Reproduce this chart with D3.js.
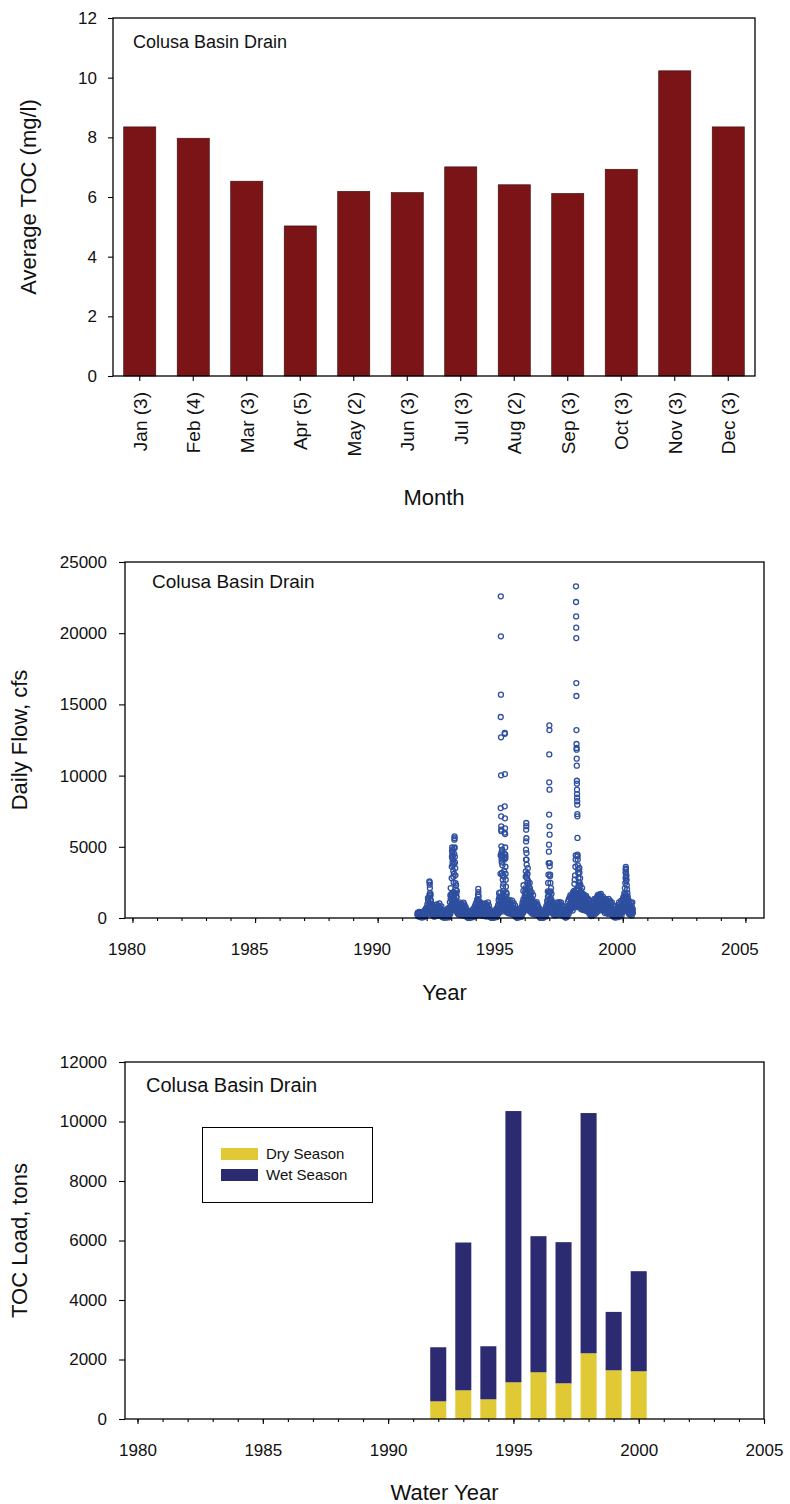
<!DOCTYPE html>
<html>
<head>
<meta charset="utf-8">
<script src="https://cdn.jsdelivr.net/npm/d3@7"></script>
<style>
  body { margin: 0; background: #fff; }
  text { font-family: Arial, "Liberation Sans", sans-serif; fill: #111; }
</style>
</head>
<body>
<div id="chart"></div>
<script>
// ---- panel 1: average TOC by month
const months = ['Jan (3)', 'Feb (4)', 'Mar (3)', 'Apr (5)', 'May (2)', 'Jun (3)',
  'Jul (3)', 'Aug (2)', 'Sep (3)', 'Oct (3)', 'Nov (3)', 'Dec (3)'];
const avgToc = [8.35, 7.97, 6.53, 5.03, 6.19, 6.15, 7.01, 6.41, 6.12, 6.93, 10.23, 8.35];
const tocTicks = [0, 2, 4, 6, 8, 10, 12];

// ---- panel 2: daily flow (base flows every 6 days from 1 Oct of each water year)
const flow1991 = [250, 380, 120, 310, 180, 420, 90];
const flowWY1992 = [280,120,390,210,60, 330,170,450,240,90, 380,560,220,640,310, 720,410,950,580,1180,
  1400,880,1600,1050,760, 1250,640,980,430,820, 560,290,710,420,180, 650,880,340,760,520,
  950,430,820,610,280, 870,540,1020,390,720, 600,250,810,460,140, 380,90,520,220,60,300];
const flowWY1993 = [150,420,60,280,510, 190,640,330,80,460, 720,380,1100,560,1350, 1500,1700,1200,1650,980,
  1400,1800,1100,1600,1250, 1700,1250,980,1450,720, 1050,560,860,420,930, 640,1100,380,820,560,
  1020,470,760,310,880, 590,1080,420,950,680, 350,780,180,620,260, 90,480,30,340,150,20];
const flowWY1994 = [280,60,390,120,450, 210,540,90,360,620, 410,180,740,330,890, 520,1050,260,780,1150,
  1300,700,1200,560,950, 640,1120,380,860,290, 720,450,1000,330,640, 880,240,760,510,1020,
  420,830,180,690,950, 560,1100,340,870,230, 640,150,480,60,390, 20,310,110,420,40,200];
const flowWY1995 = [350,80,470,160,540, 280,650,120,470,760, 900,540,1180,720,1000, 1400,1100,1300,950,1200,
  1500,1000,1300,800,1150, 1350,1050,1500,980,1250, 1100,760,1300,640,920, 1180,560,980,720,1250,
  820,1100,480,960,690, 1220,560,900,380,1050, 700,320,880,190,560, 110,430,30,290,520,160];
const flowWY1996 = [360,90,480,200,610, 280,720,150,530,880, 1100,640,1300,820,1050, 1500,1250,1700,1100,1450,
  1700,1300,2000,1150,1550, 1350,950,1500,800,1200, 1050,700,1250,560,900, 1150,480,940,640,1080,
  720,1050,400,880,560, 1120,620,950,330,780, 540,180,660,60,420, 20,280,90,390,10,150];
const flowWY1997 = [260,70,420,180,560, 330,680,200,850,520, 1200,980,1500,1250,1800, 1600,1300,1800,1100,1400,
  980,1250,700,1100,560, 850,420,760,300,640, 920,480,1050,360,740, 1100,580,880,420,1000,
  650,1120,450,930,700, 1080,520,880,290,760, 600,210,820,350,110, 430,60,300,520,140,380];
const flowWY1998 = [700,1150,480,1300,820, 1450,950,1600,1100,1350, 1200,1550,900,1400,1700, 1600,1900,1400,1750,1300,
  1800,1500,2000,1650,1900, 1750,1400,1950,1300,1600, 1500,1250,1700,1100,1450, 1350,1000,1550,1200,1650,
  1400,1050,1600,900,1300, 1200,1550,850,1400,1050, 950,1350,700,1200,500, 1000,400,850,250,700,350];
const flowWY1999 = [900,300,1100,520,1250, 700,1350,480,1150,850, 1300,650,1450,950,1600, 1200,1500,900,1650,1100,
  1550,1250,1700,1000,1400, 1300,900,1500,1100,1350, 1100,600,1250,800,1050, 1300,700,1150,500,1000,
  850,1350,550,1100,750, 1200,600,950,400,1100, 700,250,900,150,550, 300,800,60,450,200,650];
const flowWY2000 = [250,700,100,550,900, 400,1100,650,200,950, 600,1200,350,850,1100, 1300,800,1450,1000,1250,
  1500,1700,1200,1600,1350, 1100,1400,800,1250,650, 1000,450,1150,700,900, 550,1050,300,800,1100,600];
// low-flow days between the base samples (every 6 days, starting 3 days after 1 Oct)
const lowWY1992 = [90,210,40,160,300, 120,60,260,150,340, 240,130,410,200,520, 300,650,240,460,700,
  820,520,930,610,450, 700,380,560,250,480, 320,150,420,240,90, 380,520,190,450,300,
  560,250,480,350,160, 510,310,600,220,420, 350,140,470,260,70, 210,40,300,120,30,170];
const lowWY1993 = [80,250,30,160,300, 110,380,190,40,270, 420,220,640,320,780, 900,1000,700,950,560,
  820,1050,640,930,720, 980,720,560,840,420, 610,320,500,240,540, 370,640,220,480,320,
  590,270,440,180,510, 340,630,240,550,390, 200,450,100,360,150, 50,280,15,200,80,10];
const lowWY1994 = [160,30,230,70,260, 120,310,50,210,360, 240,100,430,190,520, 300,610,150,450,670,
  760,410,700,320,550, 370,650,220,500,170, 420,260,580,190,370, 510,140,440,300,590,
  240,480,100,400,550, 320,640,200,500,130, 370,80,280,30,220, 10,180,60,240,20,120];
const lowWY1995 = [200,40,270,90,310, 160,380,70,270,440, 520,310,690,420,580, 820,640,760,550,700,
  870,580,760,460,670, 790,610,870,570,730, 640,440,760,370,530, 690,320,570,420,730,
  480,640,280,560,400, 710,320,520,220,610, 400,180,510,110,320, 60,250,20,170,300,90];
const lowWY1996 = [210,50,280,110,350, 160,420,80,310,510, 640,370,760,480,610, 870,730,990,640,840,
  990,760,1160,670,900, 780,550,870,460,700, 610,400,730,320,520, 670,280,550,370,630,
  420,610,230,510,320, 650,360,550,190,450, 310,100,380,30,240, 10,160,50,230,5,90];
const lowWY1997 = [150,40,240,100,320, 190,390,110,490,300, 700,570,870,720,1040, 930,750,1050,640,810,
  570,730,400,640,320, 490,240,440,170,370, 530,280,610,210,430, 640,340,510,240,580,
  380,650,260,540,400, 630,300,510,170,440, 350,120,480,200,60, 250,30,170,300,80,220];
const lowWY1998 = [400,670,280,750,480, 840,550,930,640,780, 700,900,520,810,990, 930,1100,810,1020,750,
  1040,870,1160,960,1100, 1020,810,1130,750,930, 870,730,990,640,840, 780,580,900,700,960,
  810,610,930,520,750, 700,900,490,810,610, 550,780,400,700,290, 580,230,490,140,400,200];
const lowWY1999 = [520,170,640,300,730, 400,780,280,670,490, 750,380,840,550,930, 700,870,520,960,640,
  900,730,990,580,810, 750,520,870,640,780, 640,350,730,460,610, 750,400,670,290,580,
  490,780,320,640,430, 700,350,550,230,640, 400,140,520,80,320, 170,460,30,260,110,380];
const lowWY2000 = [140,400,60,320,520, 230,640,370,110,550, 350,700,200,490,640, 750,460,840,580,730,
  870,990,700,930,780, 640,810,460,730,370, 580,260,670,400,520, 320,610,170,460,640,350];

// storm-day flows [date, cfs]
const storm1992 = [['1992-01-20',1400],['1992-02-12',2575],['1992-02-14',2500],['1992-02-16',2340],['1992-02-18',2100],
  ['1992-02-20',1755],['1992-02-24',1520],['1992-03-01',1650],['1992-03-05',1200]];
const storm1993 = [['1992-12-20',1600],['1992-12-24',2100],['1993-01-08',2800],['1993-01-10',3600],['1993-01-12',4300],
  ['1993-01-14',4700],['1993-01-15',4950],['1993-01-17',4600],['1993-01-19',4200],['1993-01-21',3900],['1993-01-23',4400],
  ['1993-01-25',4800],['1993-01-27',4100],['1993-01-29',3700],['1993-02-01',3300],['1993-02-03',2900],['1993-02-06',2500],
  ['1993-02-09',3100],['1993-02-12',3800],['1993-02-14',4500],['1993-02-16',4900],['1993-02-18',5500],['1993-02-19',5735],
  ['1993-02-20',5600],['1993-02-22',4950],['1993-02-24',4300],['1993-02-26',3900],['1993-03-01',3500],['1993-03-04',3000],
  ['1993-03-07',2450],['1993-03-10',2000],['1993-03-14',2300],['1993-03-18',1750],['1993-03-22',1500],['1993-03-26',1900]];
const storm1994 = [['1994-01-25',1300],['1994-02-05',1640],['1994-02-08',2040],['1994-02-10',1820],['1994-02-14',1520],
  ['1994-02-20',1200]];
const storm1995 = [['1994-12-10',1300],['1994-12-15',1750],['1994-12-20',1500],['1995-01-03',1800],['1995-01-05',3100],
  ['1995-01-07',4400],['1995-01-08',7720],['1995-01-09',14115],['1995-01-10',22590],['1995-01-11',19780],['1995-01-12',15680],
  ['1995-01-13',12690],['1995-01-14',10020],['1995-01-15',7140],['1995-01-16',6440],['1995-01-17',6200],['1995-01-18',6100],
  ['1995-01-19',5030],['1995-01-20',4600],['1995-01-21',4350],['1995-01-22',4100],['1995-01-23',4450],['1995-01-24',3900],
  ['1995-01-26',3160],['1995-01-28',4200],['1995-01-30',4800],['1995-02-01',4350],['1995-02-03',3700],['1995-02-05',3000],
  ['1995-02-08',2690],['1995-02-11',2220],['1995-02-14',1750],['1995-02-18',2400],['1995-02-22',1900],['1995-02-26',2900],
  ['1995-03-01',3300],['1995-03-04',4100],['1995-03-06',4500],['1995-03-08',6000],['1995-03-09',7840],['1995-03-10',12990],
  ['1995-03-11',12940],['1995-03-12',10110],['1995-03-13',7000],['1995-03-14',6300],['1995-03-15',5900],['1995-03-16',4950],
  ['1995-03-17',4300],['1995-03-18',4450],['1995-03-19',4200],['1995-03-20',3600],['1995-03-22',3100],['1995-03-24',2690],
  ['1995-03-27',2200],['1995-03-30',1800],['1995-04-03',1500],['1995-04-08',1700]];
const storm1996 = [['1995-12-12',1900],['1995-12-14',2300],['1996-01-05',1800],['1996-01-12',2100],['1996-01-16',2900],
  ['1996-01-18',3280],['1996-01-20',4100],['1996-01-21',4800],['1996-01-22',5380],['1996-01-23',6200],['1996-01-24',6670],
  ['1996-01-25',6450],['1996-01-26',5600],['1996-01-27',4560],['1996-01-28',4100],['1996-01-30',3745],['1996-02-02',3040],
  ['1996-02-05',2800],['1996-02-08',2460],['1996-02-12',3100],['1996-02-16',3500],['1996-02-20',2600],['1996-02-25',2340],
  ['1996-03-02',2100],['1996-03-08',1750],['1996-03-15',2460],['1996-03-18',2100],['1996-03-22',1900],['1996-03-28',1600],
  ['1996-04-05',1400],['1996-04-15',1800],['1996-04-25',1300],['1996-05-05',1600]];
const storm1997 = [['1996-12-10',1870],['1996-12-15',2460],['1996-12-20',3040],['1996-12-23',3860],['1996-12-26',4660],
  ['1996-12-28',5150],['1996-12-30',7260],['1996-12-31',9530],['1997-01-01',11490],['1997-01-02',13530],['1997-01-03',13200],
  ['1997-01-04',9010],['1997-01-05',6440],['1997-01-06',5850],['1997-01-07',3630],['1997-01-09',3860],['1997-01-11',2930],
  ['1997-01-14',3040],['1997-01-18',2460],['1997-01-22',1870],['1997-01-27',2100],['1997-02-03',1700]];
const storm1998 = [['1997-12-10',1500],['1997-12-20',1800],['1998-01-05',1800],['1998-01-10',2400],['1998-01-15',2700],
  ['1998-01-20',3000],['1998-01-25',3600],['1998-01-28',4100],['1998-01-30',4400],['1998-02-03',23290],['1998-02-04',22190],
  ['1998-02-05',21180],['1998-02-06',20390],['1998-02-07',19660],['1998-02-08',16500],['1998-02-09',15590],['1998-02-10',13200],
  ['1998-02-11',12220],['1998-02-12',11940],['1998-02-13',11820],['1998-02-14',11190],['1998-02-15',10700],['1998-02-16',9640],
  ['1998-02-17',9430],['1998-02-18',9010],['1998-02-19',8700],['1998-02-20',8450],['1998-02-21',8200],['1998-02-22',7960],
  ['1998-02-23',7300],['1998-02-24',7140],['1998-02-25',5620],['1998-02-26',4450],['1998-02-27',4330],['1998-03-01',4100],
  ['1998-03-03',3700],['1998-03-05',3400],['1998-03-08',3160],['1998-03-11',2810],['1998-03-14',2500],['1998-03-17',2300],
  ['1998-03-20',1990],['1998-03-25',3510],['1998-03-27',3200],['1998-03-30',2460],['1998-04-05',2800],['1998-04-10',2300],
  ['1998-04-20',1900],['1998-05-05',2100],['1998-05-15',1700]];
const storm2000 = [['2000-01-15',1500],['2000-01-25',1750],['2000-02-01',2100],['2000-02-08',2460],['2000-02-12',2810],
  ['2000-02-13',3160],['2000-02-14',3390],['2000-02-15',3580],['2000-02-16',3450],['2000-02-17',3200],['2000-02-19',2900],
  ['2000-02-21',2600],['2000-02-24',3000],['2000-02-26',2700],['2000-03-01',2300],['2000-03-05',2000],['2000-03-10',1750],
  ['2000-03-15',1500],['2000-03-22',1300]];
const flowTicks = [0, 5000, 10000, 15000, 20000, 25000];

// ---- panel 3: seasonal TOC load
const waterYears = [1992, 1993, 1994, 1995, 1996, 1997, 1998, 1999, 2000];
const drySeason = [594, 964, 662, 1234, 1570, 1200, 2209, 1637, 1604];
const wetSeason = [1817, 4968, 1783, 9117, 4575, 4744, 8075, 1963, 3364];
const loadTicks = [0, 2000, 4000, 6000, 8000, 10000, 12000];
const yearTicks = [1980, 1985, 1990, 1995, 2000, 2005];

const W = 790, H = 1504;
const svg = d3.select('#chart').append('svg').attr('width', W).attr('height', H);
const parse = d3.timeParse('%Y-%m-%d');

function frame(g, x0, y0, x1, y1) {
  g.append('rect').attr('x', x0).attr('y', y0).attr('width', x1 - x0).attr('height', y1 - y0)
    .attr('fill', 'none').attr('stroke', '#000').attr('stroke-width', 1.3);
}
function styleAxis(a, size) {
  a.select('.domain').remove();
  a.selectAll('line').attr('stroke', '#000').attr('stroke-width', 1.1);
  a.selectAll('text').attr('font-size', size).attr('fill', '#111')
    .attr('font-family', 'Arial, "Liberation Sans", sans-serif');
}

// ================= PANEL 1
{
  const x0 = 113, x1 = 755, y0 = 18, y1 = 376;
  const x = d3.scaleBand().domain(months).range([x0, x1]).paddingInner(0.4).paddingOuter(0.2);
  const y = d3.scaleLinear().domain([0, 12]).range([y1, y0]);
  const g = svg.append('g');

  g.selectAll('rect.bar').data(avgToc).enter().append('rect').attr('class', 'bar')
    .attr('x', (d, i) => x(months[i]))
    .attr('y', d => y(d))
    .attr('width', x.bandwidth())
    .attr('height', d => y(0) - y(d))
    .attr('fill', '#7a1416')
    .attr('stroke', '#3a0a0a').attr('stroke-width', 0.6);

  const ya = g.append('g').attr('transform', `translate(${x0},0)`)
    .call(d3.axisLeft(y).tickValues(tocTicks).tickSize(5).tickPadding(11).tickSizeOuter(0));
  styleAxis(ya, 17);
  const xa = g.append('g').attr('transform', `translate(0,${y1})`)
    .call(d3.axisBottom(x).tickSize(5).tickSizeOuter(0));
  styleAxis(xa, 19);
  xa.selectAll('text').attr('transform', 'rotate(-90)').attr('text-anchor', 'end')
    .attr('x', -16).attr('y', 0).attr('dy', '0.36em');
  frame(g, x0, y0, x1, y1);

  g.append('text').attr('x', 133).attr('y', 48).attr('font-size', 18).text('Colusa Basin Drain');
  g.append('text').attr('x', (x0 + x1) / 2).attr('y', 505).attr('text-anchor', 'middle')
    .attr('font-size', 22).text('Month');
  g.append('text').attr('transform', `translate(36,${(y0 + y1) / 2}) rotate(-90)`)
    .attr('text-anchor', 'middle').attr('font-size', 22).text('Average TOC (mg/l)');
}

// ================= PANEL 2
{
  const x0 = 125, x1 = 764, y0 = 562, y1 = 918;
  const x = d3.scaleTime().domain([new Date(1979, 8, 12), new Date(2005, 9, 5)]).range([x0, x1]);
  const y = d3.scaleLinear().domain([0, 25000]).range([y1, y0]);
  const g = svg.append('g');

  const base = [[new Date(1991, 7, 15), flow1991]];
  [flowWY1992, flowWY1993, flowWY1994, flowWY1995, flowWY1996, flowWY1997, flowWY1998, flowWY1999, flowWY2000]
    .forEach((arr, k) => base.push([new Date(1991 + k, 9, 1), arr]));
  [lowWY1992, lowWY1993, lowWY1994, lowWY1995, lowWY1996, lowWY1997, lowWY1998, lowWY1999, lowWY2000]
    .forEach((arr, k) => base.push([new Date(1991 + k, 9, 4), arr]));
  const pts = [];
  base.forEach(([start, arr]) => arr.forEach((v, i) => pts.push([d3.timeDay.offset(start, i * 6), v])));
  [storm1992, storm1993, storm1994, storm1995, storm1996, storm1997, storm1998, storm2000]
    .forEach(s => s.forEach(([d, v]) => pts.push([parse(d), v])));

  g.append('g').selectAll('circle').data(pts).enter().append('circle')
    .attr('cx', d => x(d[0])).attr('cy', d => y(d[1])).attr('r', 2.5)
    .attr('fill', 'none').attr('stroke', '#2f4f9f').attr('stroke-width', 1.3);

  const ya = g.append('g').attr('transform', `translate(${x0},0)`)
    .call(d3.axisLeft(y).tickValues(flowTicks).tickSize(6).tickPadding(12).tickSizeOuter(0).tickFormat(d3.format('d')));
  styleAxis(ya, 17);
  const minor = g.append('g').attr('transform', `translate(0,${y1})`)
    .call(d3.axisBottom(x).ticks(d3.timeYear.every(1)).tickSize(3).tickFormat(''));
  styleAxis(minor, 17);
  const xa = g.append('g').attr('transform', `translate(0,${y1})`)
    .call(d3.axisBottom(x).tickValues(yearTicks.map(yr => new Date(yr, 0, 1)))
      .tickSize(5).tickPadding(20).tickFormat(d3.timeFormat('%Y')));
  styleAxis(xa, 17);
  xa.selectAll('text').attr('dx', -6);
  frame(g, x0, y0, x1, y1);

  g.append('text').attr('x', 152).attr('y', 588).attr('font-size', 19).text('Colusa Basin Drain');
  g.append('text').attr('x', (x0 + x1) / 2).attr('y', 1000).attr('text-anchor', 'middle')
    .attr('font-size', 22).text('Year');
  g.append('text').attr('transform', `translate(27,${(y0 + y1) / 2}) rotate(-90)`)
    .attr('text-anchor', 'middle').attr('font-size', 22).text('Daily Flow, cfs');
}

// ================= PANEL 3
{
  const x0 = 125, x1 = 764, y0 = 1062, y1 = 1419;
  const x = d3.scaleLinear().domain([1979.5, 2005]).range([x0, x1]);
  const y = d3.scaleLinear().domain([0, 12000]).range([y1, y0]);
  const g = svg.append('g');
  const bw = 0.64;

  const stacked = d3.stack().keys(['dry', 'wet'])(
    waterYears.map((yr, i) => ({ year: yr, dry: drySeason[i], wet: wetSeason[i] })));
  const colors = { dry: '#e0c934', wet: '#2c2a70' };
  stacked.forEach(layer => {
    g.append('g').selectAll('rect').data(layer).enter().append('rect')
      .attr('x', d => x(d.data.year - bw / 2))
      .attr('width', x(bw) - x(0))
      .attr('y', d => y(d[1]))
      .attr('height', d => y(d[0]) - y(d[1]))
      .attr('fill', colors[layer.key]);
  });

  const ya = g.append('g').attr('transform', `translate(${x0},0)`)
    .call(d3.axisLeft(y).tickValues(loadTicks).tickSize(6).tickPadding(12).tickSizeOuter(0).tickFormat(d3.format('d')));
  styleAxis(ya, 17);
  const minor = g.append('g').attr('transform', `translate(0,${y1})`)
    .call(d3.axisBottom(x).tickValues(d3.range(1980, 2006)).tickSize(3).tickFormat(''));
  styleAxis(minor, 17);
  const xa = g.append('g').attr('transform', `translate(0,${y1})`)
    .call(d3.axisBottom(x).tickValues(yearTicks).tickSize(5).tickPadding(20).tickFormat(d3.format('d')));
  styleAxis(xa, 17);
  frame(g, x0, y0, x1, y1);

  g.append('text').attr('x', 146).attr('y', 1092).attr('font-size', 20).text('Colusa Basin Drain');

  // legend
  const lg = g.append('g');
  lg.append('rect').attr('x', 202.5).attr('y', 1127.5).attr('width', 170).attr('height', 75)
    .attr('fill', '#fff').attr('stroke', '#000').attr('stroke-width', 1);
  [['Dry Season', 'dry'], ['Wet Season', 'wet']].forEach(([label, key], i) => {
    lg.append('rect').attr('x', 221).attr('y', 1148 + i * 21).attr('width', 37).attr('height', 12)
      .attr('fill', colors[key]);
    lg.append('text').attr('x', 266).attr('y', 1159 + i * 21).attr('font-size', 15).text(label);
  });

  g.append('text').attr('x', (x0 + x1) / 2).attr('y', 1500).attr('text-anchor', 'middle')
    .attr('font-size', 22).text('Water Year');
  g.append('text').attr('transform', `translate(27,${(y0 + y1) / 2}) rotate(-90)`)
    .attr('text-anchor', 'middle').attr('font-size', 22).text('TOC Load, tons');
}
</script>
</body>
</html>
